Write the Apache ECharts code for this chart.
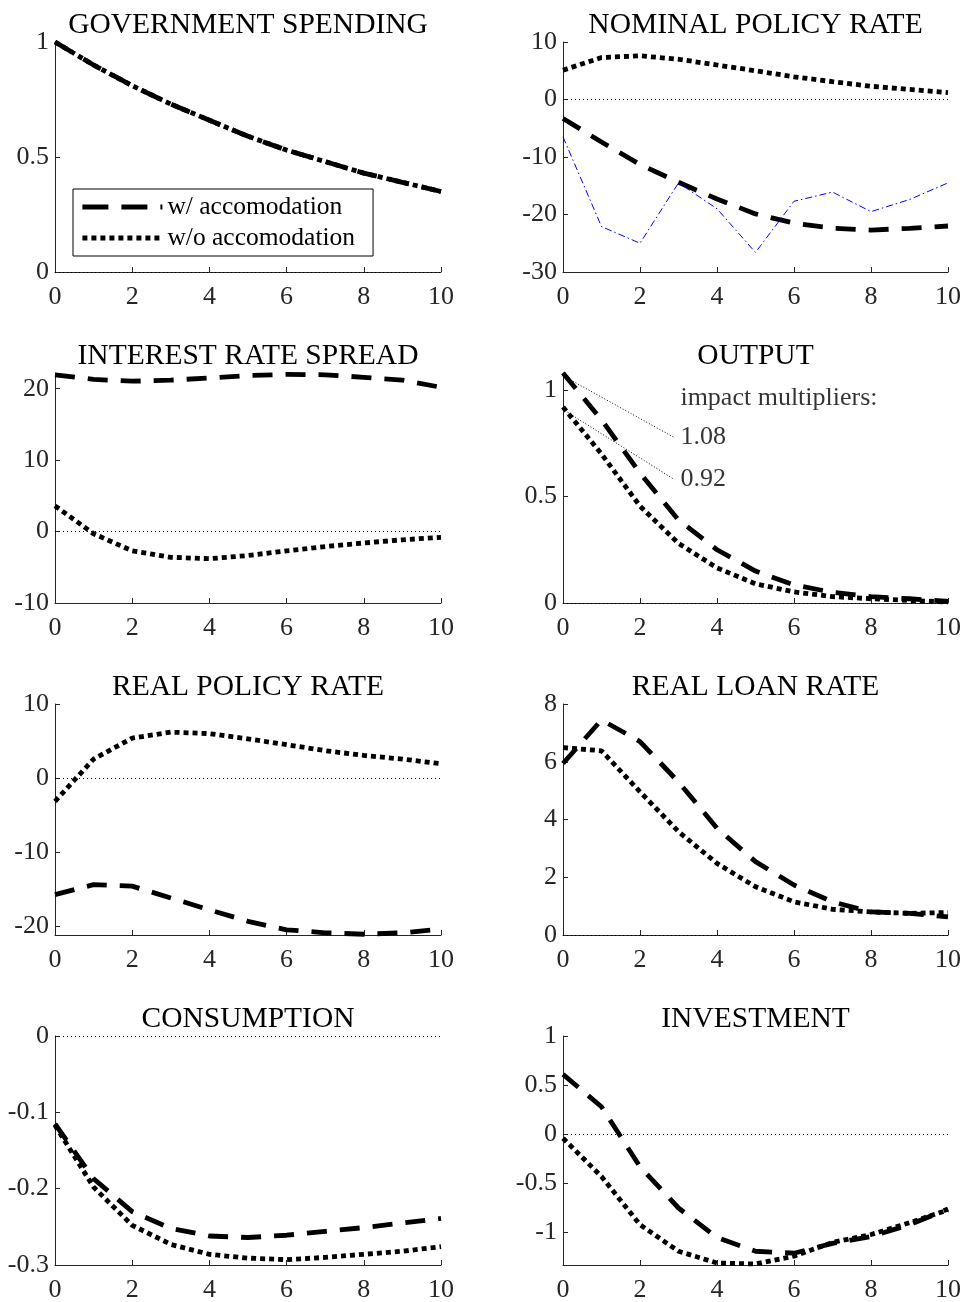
<!DOCTYPE html>
<html>
<head>
<meta charset="utf-8">
<script src="https://cdn.jsdelivr.net/npm/echarts@6/dist/echarts.min.js"></script>
<style>
  html, body { margin: 0; padding: 0; background: #fff; }
  #chart { width: 962px; height: 1302px; }
</style>
</head>
<body>
<div id="chart"></div>
<script>
// quarters after the shock
const quarters = [0, 1, 2, 3, 4, 5, 6, 7, 8, 9, 10];
const xTicks = [0, 2, 4, 6, 8, 10];

// w/ = with monetary accomodation, wo = without
const govW  = [1, 0.9, 0.81, 0.73, 0.66, 0.59, 0.53, 0.48, 0.43, 0.39, 0.35];
const govWo = [1, 0.9, 0.81, 0.73, 0.66, 0.59, 0.53, 0.48, 0.43, 0.39, 0.35];

const nomW    = [-3.3, -7.4, -11.3, -14.4, -17.3, -19.9, -21.5, -22.4, -22.7, -22.4, -22.0];
const nomWo   = [5.1, 7.3, 7.6, 7.0, 6.0, 5.0, 3.95, 3.1, 2.3, 1.75, 1.2];
const nomBlue = [-6.5, -22.1, -25.0, -14.5, -19.0, -26.6, -17.7, -16.1, -19.5, -17.4, -14.5];

const sprW  = [21.95, 21.3, 21.05, 21.2, 21.5, 21.85, 22.0, 21.95, 21.6, 21.2, 20.2];
const sprWo = [3.6, -0.3, -2.7, -3.6, -3.8, -3.35, -2.7, -2.1, -1.6, -1.15, -0.8];

const outW  = [1.08, 0.86, 0.61, 0.39, 0.25, 0.15, 0.085, 0.05, 0.03, 0.02, 0.008];
const outWo = [0.92, 0.70, 0.455, 0.28, 0.165, 0.09, 0.052, 0.03, 0.02, 0.012, 0.005];

const rpW  = [-15.75, -14.4, -14.6, -16.2, -17.8, -19.35, -20.5, -20.9, -21.1, -20.9, -20.4];
const rpWo = [-3.15, 2.56, 5.4, 6.2, 6.0, 5.3, 4.5, 3.7, 3.05, 2.56, 1.93];

const lrW  = [5.94, 7.45, 6.7, 5.3, 3.7, 2.54, 1.73, 1.15, 0.8, 0.75, 0.63];
const lrWo = [6.49, 6.38, 4.96, 3.58, 2.48, 1.67, 1.15, 0.89, 0.8, 0.75, 0.78];

const conW  = [-0.115, -0.187, -0.230, -0.252, -0.262, -0.264, -0.261, -0.256, -0.251, -0.245, -0.239];
const conWo = [-0.117, -0.198, -0.248, -0.273, -0.286, -0.291, -0.293, -0.290, -0.286, -0.282, -0.276];

const invW  = [0.61, 0.28, -0.33, -0.75, -1.05, -1.19, -1.21, -1.11, -1.04, -0.92, -0.76];
const invWo = [-0.04, -0.43, -0.92, -1.19, -1.31, -1.32, -1.24, -1.10, -1.02, -0.90, -0.77];

// y tick labels per panel
const govTicks = [0, 0.5, 1];
const nomTicks = [-30, -20, -10, 0, 10];
const sprTicks = [-10, 0, 10, 20];
const outTicks = [0, 0.5, 1];
const rpTicks  = [-20, -10, 0, 10];
const lrTicks  = [0, 2, 4, 6, 8];
const conTicks = [-0.3, -0.2, -0.1, 0];
const invTicks = [-1, -0.5, 0, 0.5, 1];

const impactLabels = ['impact multipliers:', '1.08', '0.92'];

const serif = "'Liberation Serif', 'Times New Roman', serif";
const axisColor = '#262626';

const panels = [
  { title: 'GOVERNMENT SPENDING',  w: govW, wo: govWo, min: 0,     max: 1,    ticks: govTicks },
  { title: 'NOMINAL POLICY RATE',  w: nomW, wo: nomWo, min: -30,   max: 10,   ticks: nomTicks },
  { title: 'INTEREST RATE SPREAD', w: sprW, wo: sprWo, min: -10,   max: 22.2, ticks: sprTicks },
  { title: 'OUTPUT',               w: outW, wo: outWo, min: 0,     max: 1.08, ticks: outTicks },
  { title: 'REAL POLICY RATE',     w: rpW,  wo: rpWo,  min: -21.2, max: 10,   ticks: rpTicks },
  { title: 'REAL LOAN RATE',       w: lrW,  wo: lrWo,  min: 0,     max: 8,    ticks: lrTicks },
  { title: 'CONSUMPTION',          w: conW, wo: conWo, min: -0.3,  max: 0,    ticks: conTicks },
  { title: 'INVESTMENT',           w: invW, wo: invWo, min: -1.33, max: 1,    ticks: invTicks }
];

// layout of the 2x4 panel grid
const colLeft = [55, 563];
const colWidth = [386, 385];
const rowTop = [42, 373, 704, 1036];
const rowHeight = [230, 230, 231, 229];

const pairs = arr => quarters.map((q, i) => [q, arr[i]]);

const dashedStyle = { color: '#000', width: 4.8, type: [20, 13], cap: 'butt' };
const dottedStyle = { color: '#000', width: 4.8, type: [5, 4], cap: 'butt' };

const grid = [], xAxis = [], yAxis = [], title = [], series = [];

panels.forEach((p, i) => {
  const col = i % 2, row = Math.floor(i / 2);
  grid.push({
    left: colLeft[col], top: rowTop[row], width: colWidth[col], height: rowHeight[row],
    outerBoundsMode: 'none'
  });
  title.push({
    text: p.title,
    left: colLeft[col] + colWidth[col] / 2 - 5,
    top: rowTop[row] - 37,
    textAlign: 'center',
    textStyle: { fontFamily: serif, fontSize: 29.5, fontWeight: 'normal', color: '#000' }
  });
  xAxis.push({
    type: 'value', gridIndex: i, min: 0, max: 10, interval: 2,
    axisLine: { onZero: false, lineStyle: { color: axisColor, width: 1 } },
    axisTick: { inside: true, length: 5, lineStyle: { color: axisColor } },
    axisLabel: { color: axisColor, fontFamily: serif, fontSize: 26, margin: 12, customValues: xTicks },
    splitLine: { show: false }
  });
  yAxis.push({
    type: 'value', gridIndex: i, min: p.min, max: p.max,
    axisLine: { show: true, onZero: false, lineStyle: { color: axisColor, width: 1 } },
    axisTick: { show: true, inside: true, length: 5, lineStyle: { color: axisColor }, customValues: p.ticks },
    axisLabel: { color: axisColor, fontFamily: serif, fontSize: 26, margin: 6, customValues: p.ticks },
    splitLine: { show: false }
  });
  series.push({
    name: 'w/ accomodation', type: 'line', xAxisIndex: i, yAxisIndex: i,
    data: pairs(p.w), symbol: 'none', lineStyle: dashedStyle, itemStyle: { color: '#000' }, z: 3,
    markLine: {
      silent: true, symbol: 'none', label: { show: false },
      lineStyle: { color: '#000', width: 1, type: [1, 3] },
      data: [{ yAxis: 0 }]
    }
  });
  series.push({
    name: 'w/o accomodation', type: 'line', xAxisIndex: i, yAxisIndex: i,
    data: pairs(p.wo), symbol: 'none', lineStyle: dottedStyle, itemStyle: { color: '#000' }, z: 3
  });
});

// thin blue line in the nominal policy rate panel
series.push({
  name: 'nominal rate (blue)', type: 'line', xAxisIndex: 1, yAxisIndex: 1,
  data: pairs(nomBlue), symbol: 'none', z: 4,
  lineStyle: { color: '#0000ff', width: 1, type: [7, 3, 1.5, 3] }
});

// impact multiplier annotation in OUTPUT panel
series.push({
  name: 'pointer 1', type: 'line', xAxisIndex: 3, yAxisIndex: 3, symbol: 'none',
  data: [[0.12, 1.055], [2.89, 0.777]],
  lineStyle: { color: '#000', width: 1, type: [1, 2] }
});
series.push({
  name: 'pointer 2', type: 'line', xAxisIndex: 3, yAxisIndex: 3, symbol: 'none',
  data: [[0.12, 0.895], [2.89, 0.58]],
  lineStyle: { color: '#000', width: 1, type: [1, 2] }
});
series.push({
  name: 'impact text', type: 'scatter', xAxisIndex: 3, yAxisIndex: 3,
  symbolSize: 0, silent: true,
  data: [
    { name: impactLabels[0], value: [3.05, 0.96] },
    { name: impactLabels[1], value: [3.05, 0.778] },
    { name: impactLabels[2], value: [3.05, 0.58] }
  ],
  label: {
    show: true, position: 'right', distance: 0, formatter: '{b}',
    fontFamily: serif, fontSize: 26, color: '#000'
  }
});

const chart = echarts.init(document.getElementById('chart'), null, { renderer: 'canvas' });
chart.setOption({
  animation: false,
  backgroundColor: '#fff',
  title: title,
  grid: grid,
  xAxis: xAxis,
  yAxis: yAxis,
  legend: {
    data: [
      { name: 'w/ accomodation', lineStyle: { color: '#000', width: 4.8, type: [26, 13], cap: 'butt' } },
      { name: 'w/o accomodation', lineStyle: { color: '#000', width: 4.8, type: [5, 4], cap: 'butt' } }
    ],
    orient: 'vertical', left: 73, top: 189,
    itemWidth: 80, itemHeight: 14, itemGap: 5,
    padding: [5, 18, 5, 7],
    borderColor: '#000', borderWidth: 1, backgroundColor: '#fff',
    selectedMode: false,
    lineStyle: { color: '#000', width: 4.8, cap: 'butt' },
    itemStyle: { opacity: 0 },
    textStyle: { fontFamily: serif, fontSize: 25.5, color: '#000' }
  },
  series: series
});
</script>
</body>
</html>
